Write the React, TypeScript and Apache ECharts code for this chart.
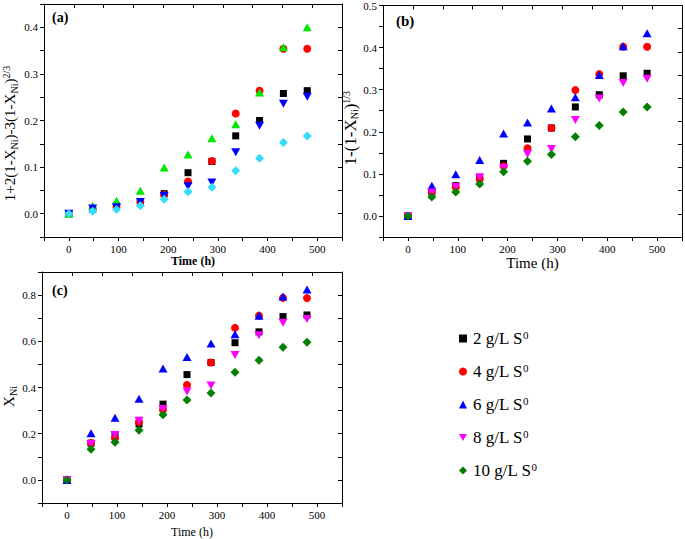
import React, { useEffect, useRef } from 'react';
import * as echarts from 'echarts';

// sampling times (h)
const hours = [0, 48, 96, 144, 192, 240, 288, 336, 384, 432, 480];

// S0 dosages, legend names
const dosages = ['2 g/L S0', '4 g/L S0', '6 g/L S0', '8 g/L S0', '10 g/L S0'];

// (a) 1+2(1-X)-3(1-X)^(2/3)
const a2 = [0, 0.009, 0.017, 0.025, 0.043, 0.088, 0.112, 0.167, 0.2, 0.258, 0.264];
const a4 = [0, 0.01, 0.015, 0.025, 0.04, 0.069, 0.113, 0.215, 0.264, 0.354, 0.354];
const a6 = [0, 0.017, 0.028, 0.049, 0.099, 0.127, 0.162, 0.192, 0.26, 0.357, 0.4];
const a8 = [0, 0.011, 0.014, 0.025, 0.038, 0.059, 0.067, 0.132, 0.189, 0.236, 0.251];
const a10 = [0, 0.005, 0.009, 0.017, 0.031, 0.047, 0.057, 0.092, 0.119, 0.153, 0.167];

// (b) 1-(1-X)^(1/3)
const b2 = [0, 0.057, 0.072, 0.09, 0.125, 0.183, 0.209, 0.259, 0.288, 0.333, 0.339];
const b4 = [0, 0.057, 0.068, 0.088, 0.118, 0.161, 0.209, 0.299, 0.337, 0.402, 0.402];
const b6 = [0, 0.072, 0.099, 0.133, 0.196, 0.222, 0.255, 0.282, 0.335, 0.403, 0.434];
const b8 = [0, 0.056, 0.069, 0.092, 0.114, 0.147, 0.159, 0.228, 0.279, 0.316, 0.326];
const b10 = [0, 0.045, 0.057, 0.076, 0.105, 0.13, 0.146, 0.188, 0.215, 0.247, 0.259];

// (c) X_Ni
const c2 = [0, 0.159, 0.195, 0.242, 0.328, 0.456, 0.508, 0.594, 0.641, 0.707, 0.714];
const c4 = [0, 0.16, 0.18, 0.25, 0.304, 0.411, 0.508, 0.658, 0.711, 0.788, 0.787];
const c6 = [0, 0.202, 0.269, 0.351, 0.482, 0.532, 0.59, 0.63, 0.711, 0.794, 0.824];
const c8 = [0, 0.155, 0.194, 0.256, 0.307, 0.383, 0.409, 0.541, 0.626, 0.68, 0.696];
const c10 = [0, 0.133, 0.163, 0.215, 0.282, 0.346, 0.376, 0.466, 0.518, 0.574, 0.596];

const FONT = 'Liberation Serif';

const symbols = ['rect', 'circle', 'triangle', 'path://M0,0L10,0L5,8.66Z', 'diamond'];
const symbolSizes: any[] = [7, 8, [9, 8], [9, 8], 9];
const colorsBC = ['#000000', '#ff0000', '#0000ff', '#ff00ff', '#008000'];
const colorsA = ['#000000', '#ff0000', '#00e600', '#0000ff', '#33ddff'];

function App() {
  const chartRef = useRef<HTMLDivElement>(null);

  useEffect(() => {
    if (!chartRef.current) return;
    const chart = echarts.init(chartRef.current, null, { renderer: 'svg' });

    const grids = [
      { left: 42, top: 4, width: 300, height: 233 },
      { left: 383, top: 5, width: 300, height: 232 },
      { left: 42, top: 272, width: 300, height: 231 },
    ];
    const yRanges = [
      { min: -0.05, max: 0.45, step: 0.05 },
      { min: -0.05, max: 0.5, step: 0.05 },
      { min: -0.1, max: 0.9, step: 0.1 },
    ];
    const xNames = [
      { gap: 10, size: 12, weight: 'bold' },
      { gap: 18, size: 15, weight: 'normal' },
      { gap: 23, size: 12, weight: 'normal' },
    ];
    // shift = extra right padding, which moves the rotated name down the axis
    const yNames = [
      { text: '{n|1+2(1-X}{sub|Ni}{n|)-3(1-X}{sub|Ni}{n|)}{sup|2/3}', gap: 25, size: 15, shift: 26 },
      { text: '{n|1-(1-X}{sub|Ni}{n|)}{sup|1/3}', gap: 22, size: 17, shift: 14 },
      { text: '{n|X}{sub|Ni}', gap: 22, size: 15, shift: 18 },
    ];

    const line = { onZero: false, lineStyle: { color: '#000', width: 1 } };
    const tickLabel = { fontFamily: FONT, fontSize: 11, color: '#000', margin: 6 };

    const xAxis: any[] = [];
    const yAxis: any[] = [];
    grids.forEach((_, g) => {
      xAxis.push({
        type: 'value', gridIndex: g, position: 'bottom',
        min: -50, max: 550, interval: 50,
        axisLine: line,
        axisTick: { length: 4, lineStyle: { color: '#000' } },
        axisLabel: { ...tickLabel, formatter: (v: number) => (v % 100 === 0 ? String(v) : '') },
        splitLine: { show: false },
        name: 'Time (h)', nameLocation: 'middle', nameGap: xNames[g].gap,
        nameTextStyle: { fontFamily: FONT, fontSize: xNames[g].size, fontWeight: xNames[g].weight, color: '#000' },
      });
      xAxis.push({
        type: 'value', gridIndex: g, position: 'top',
        min: 0, max: 10, interval: 1,
        axisLine: line,
        axisTick: { inside: true, length: 4, lineStyle: { color: '#000' } },
        axisLabel: { show: false },
        splitLine: { show: false },
      });
      const r = yRanges[g];
      yAxis.push({
        type: 'value', gridIndex: g, position: 'left',
        min: r.min, max: r.max, interval: r.step,
        axisLine: line,
        axisTick: { length: 4, lineStyle: { color: '#000' } },
        axisLabel: {
          ...tickLabel,
          formatter: (v: number) => (Math.round(v / r.step) % 2 === 0 ? v.toFixed(1) : ''),
        },
        splitLine: { show: false },
        name: yNames[g].text, nameLocation: 'middle', nameRotate: 90, nameGap: yNames[g].gap,
        nameTextStyle: {
          fontFamily: FONT, color: '#000',
          padding: [0, yNames[g].shift, 0, 0],
          rich: {
            n: { fontFamily: FONT, fontSize: yNames[g].size, color: '#000' },
            sub: { fontFamily: FONT, fontSize: 10, color: '#000', padding: [8, 0, 0, 0] },
            sup: { fontFamily: FONT, fontSize: 10, color: '#000', padding: [0, 0, 8, 0] },
          },
        },
      });
      yAxis.push({
        type: 'value', gridIndex: g, position: 'right',
        min: 0, max: 10, interval: 1,
        axisLine: line,
        axisTick: { inside: true, length: 4, lineStyle: { color: '#000' } },
        axisLabel: { show: false },
        splitLine: { show: false },
      });
    });

    const makeSeries = (g: number, sets: number[][], colors: string[]) =>
      sets.map((vals, i) => ({
        type: 'scatter',
        name: dosages[i],
        xAxisIndex: g * 2,
        yAxisIndex: g * 2,
        symbol: symbols[i],
        symbolSize: symbolSizes[i],
        itemStyle: { color: colors[i], opacity: 1 },
        data: hours.map((h, k) => [h, vals[k]]),
      }));

    // (b) first so the legend takes its marker colours
    const series = [
      ...makeSeries(1, [b2, b4, b6, b8, b10], colorsBC),
      ...makeSeries(2, [c2, c4, c6, c8, c10], colorsBC),
      ...makeSeries(0, [a2, a4, a6, a8, a10], colorsA),
    ];

    const panelTitle = (text: string, left: number, top: number, size: number) => ({
      text, left, top, padding: 0,
      textStyle: { fontFamily: FONT, fontWeight: 'bold', fontSize: size, color: '#000' },
    });

    const option = {
      animation: false,
      backgroundColor: '#ffffff',
      textStyle: { fontFamily: FONT },
      title: [
        panelTitle('(a)', 52, 10, 14),
        panelTitle('(b)', 396, 13, 15),
        panelTitle('(c)', 52, 283, 14),
      ],
      legend: {
        orient: 'vertical',
        left: 454,
        top: 324,
        itemWidth: 8,
        itemHeight: 8,
        itemGap: 14,
        selectedMode: false,
        data: dosages,
        formatter: (name: string) => `{n|${name.slice(0, -1)}}{s|0}`,
        textStyle: {
          fontFamily: FONT, fontSize: 17, color: '#000',
          rich: {
            n: { fontFamily: FONT, fontSize: 17, lineHeight: 18, color: '#000', padding: [0, 0, 0, 1] },
            s: { fontFamily: FONT, fontSize: 11, lineHeight: 10, color: '#000', padding: [0, 0, 8, 0] },
          },
        },
      },
      grid: grids,
      xAxis,
      yAxis,
      series,
    };

    chart.setOption(option);
    return () => {
      chart.dispose();
    };
  }, []);

  return (
    <div
      ref={chartRef}
      style={{ position: 'fixed', left: 0, top: 0, width: 685, height: 539, background: '#fff' }}
    />
  );
}

export default App;
